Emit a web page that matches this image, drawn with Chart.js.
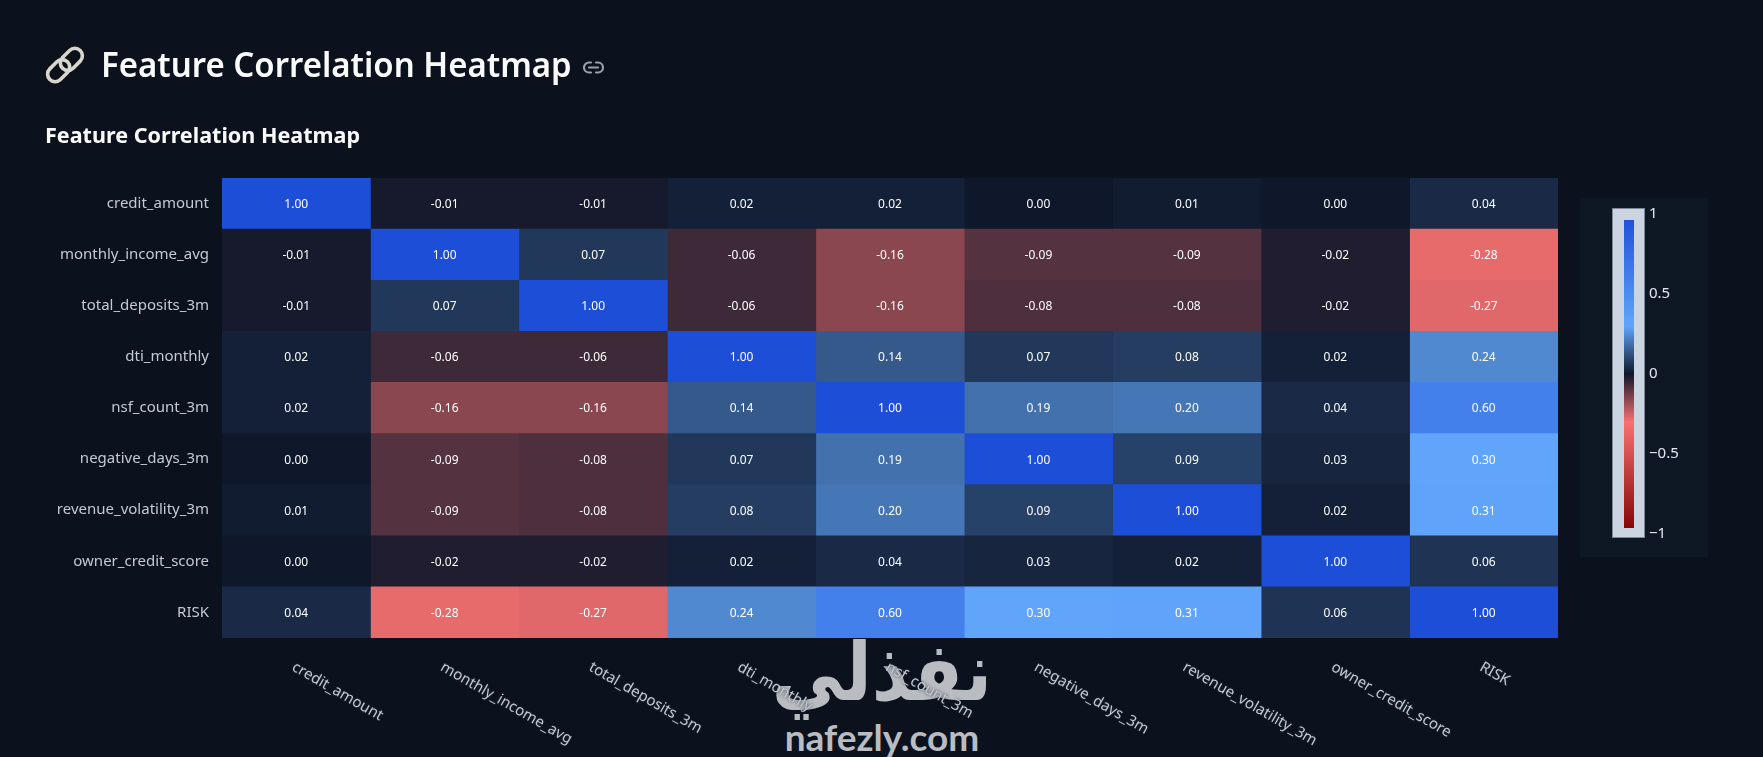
<!DOCTYPE html>
<html>
<head>
<meta charset="utf-8">
<title>Feature Correlation Heatmap</title>
<script src="https://cdn.jsdelivr.net/npm/chart.js@4"></script>
<style>
  html, body { margin: 0; padding: 0; width: 1763px; height: 757px; overflow: hidden; background: #0b121e; }
  body { position: relative; font-family: "Noto Sans", sans-serif; color: #fafafa; }
  .abs { position: absolute; }
  #pageTitle { left: 101px; top: 41px; font-size: 34px; font-weight: 600; line-height: 46px; white-space: nowrap; transform-origin: left center; transform: scaleX(.97); }
  #subTitle { left: 45px; top: 119px; font-size: 22px; font-weight: 700; line-height: 30px; white-space: nowrap; transform-origin: left center; transform: scaleX(.98); }
  #colorPanel { left: 1580px; top: 198px; width: 128px; height: 359px; background: #0e1724; }
  #colorFrame { left: 1612px; top: 208px; width: 31px; height: 328px; background: #cbd5e1; border: 1px solid #7d8796; }
  #heatCanvas { left: 0; top: 0; }
  #barCanvas { left: 1600px; top: 190px; }
  #markAr { left: 766px; top: 622px; width: 232px; text-align: center; font-family: "DejaVu Sans", sans-serif; font-weight: 700; font-size: 72px; line-height: 90px; color: #b9bcc0; transform: scaleY(1.12); transform-origin: center top; }
  #markEn { left: 774px; top: 717px; width: 216px; text-align: center; font-family: "Lato", sans-serif; font-weight: 700; font-size: 37px; line-height: 40px; color: #b9bcc0; }
</style>
</head>
<body>
<div class="abs" id="colorPanel"></div>
<div class="abs" id="colorFrame"></div>
<div class="abs" id="markAr" dir="rtl">نفذلي</div>
<div class="abs" id="markEn">nafezly.com</div>
<canvas class="abs" id="heatCanvas" width="1763" height="757"></canvas>
<canvas class="abs" id="barCanvas" width="100" height="370"></canvas>

<svg class="abs" style="left:43px;top:43px" width="44" height="44" viewBox="0 0 44 44">
  <g fill="none" transform="rotate(-45 22 22)">
    <rect x="1" y="14" width="25" height="15" rx="7.5" stroke="#111" stroke-width="7"/>
    <rect x="18" y="15" width="25" height="15" rx="7.5" stroke="#111" stroke-width="7"/>
    <rect x="1" y="14" width="25" height="15" rx="7.5" stroke="#d6d6d2" stroke-width="3.6"/>
    <rect x="18" y="15" width="25" height="15" rx="7.5" stroke="#d6d6d2" stroke-width="3.6"/>
  </g>
</svg>
<div class="abs" id="pageTitle">Feature Correlation Heatmap</div>
<svg class="abs" style="left:582px;top:60px" width="23" height="15" viewBox="0 0 23 15" fill="none" stroke="#9aa0a8" stroke-width="2.2" stroke-linecap="round">
  <path d="M9 2.5H7a5 5 0 0 0 0 10h2"/><path d="M14 2.5h2a5 5 0 0 1 0 10h-2"/><path d="M7 7.5h9"/>
</svg>
<div class="abs" id="subTitle">Feature Correlation Heatmap</div>

<script>
const features = ['credit_amount', 'monthly_income_avg', 'total_deposits_3m', 'dti_monthly', 'nsf_count_3m',
    'negative_days_3m', 'revenue_volatility_3m', 'owner_credit_score', 'RISK'];

const creditAmount = [1.00, -0.01, -0.01, 0.02, 0.02, 0.00, 0.01, 0.00, 0.04];
const monthlyIncomeAvg = [-0.01, 1.00, 0.07, -0.06, -0.16, -0.09, -0.09, -0.02, -0.28];
const totalDeposits3m = [-0.01, 0.07, 1.00, -0.06, -0.16, -0.08, -0.08, -0.02, -0.27];
const dtiMonthly = [0.02, -0.06, -0.06, 1.00, 0.14, 0.07, 0.08, 0.02, 0.24];
const nsfCount3m = [0.02, -0.16, -0.16, 0.14, 1.00, 0.19, 0.20, 0.04, 0.60];
const negativeDays3m = [0.00, -0.09, -0.08, 0.07, 0.19, 1.00, 0.09, 0.03, 0.30];
const revenueVolatility3m = [0.01, -0.09, -0.08, 0.08, 0.20, 0.09, 1.00, 0.02, 0.31];
const ownerCreditScore = [0.00, -0.02, -0.02, 0.02, 0.04, 0.03, 0.02, 1.00, 0.06];
const risk = [0.04, -0.28, -0.27, 0.24, 0.60, 0.30, 0.31, 0.06, 1.00];

const rows = [creditAmount, monthlyIncomeAvg, totalDeposits3m, dtiMonthly, nsfCount3m,
    negativeDays3m, revenueVolatility3m, ownerCreditScore, risk];

const colorbarTicks = [-1, -0.5, 0, 0.5, 1];

// value -> colour stops of the diverging scale
const stopValues = [-1, -0.3, 0, 0.3, 1];
const stopColors = [[127, 0, 0], [248, 113, 113], [15, 23, 42], [96, 165, 250], [29, 78, 216]];

function colorFor(v) {
    let i = 0;
    while (i < stopValues.length - 2 && v > stopValues[i + 1]) i++;
    const t = (v - stopValues[i]) / (stopValues[i + 1] - stopValues[i]);
    const c = stopColors[i].map((a, k) => Math.round(a + (stopColors[i + 1][k] - a) * t));
    return `rgb(${c[0]}, ${c[1]}, ${c[2]})`;
}

// one horizontal stacked dataset per column, each cell is one unit wide
const columns = features.map((name, col) => ({
    label: name,
    data: rows.map(() => 1),
    backgroundColor: rows.map(r => colorFor(r[col])),
    borderWidth: 0,
    barPercentage: 1,
    categoryPercentage: 1
}));

// cell values and the slanted column labels
const heatLabels = {
    id: 'heatLabels',
    afterDatasetsDraw(chart) {
        const ctx = chart.ctx;
        ctx.save();
        ctx.font = '12px "Noto Sans", sans-serif';
        ctx.fillStyle = '#ffffff';
        ctx.textAlign = 'center';
        ctx.textBaseline = 'middle';
        chart.data.datasets.forEach((ds, col) => {
            chart.getDatasetMeta(col).data.forEach((bar, row) => {
                const p = bar.getCenterPoint();
                ctx.fillText(rows[row][col].toFixed(2), p.x, p.y + 1);
            });
        });
        ctx.restore();

        const x = chart.scales.x;
        ctx.save();
        ctx.font = '15px "Noto Sans", sans-serif';
        ctx.fillStyle = '#c3cad5';
        ctx.shadowColor = '#2c313a';
        ctx.shadowBlur = 3;
        ctx.textAlign = 'left';
        ctx.textBaseline = 'middle';
        features.forEach((name, i) => {
            ctx.save();
            ctx.translate(x.getPixelForValue(i + 0.5) - 3, 666);
            ctx.rotate(Math.PI / 6);
            ctx.fillText(name, 0, 0);
            ctx.restore();
        });
        ctx.restore();
    }
};

new Chart(document.getElementById('heatCanvas'), {
    type: 'bar',
    data: { labels: features, datasets: columns },
    options: {
        indexAxis: 'y',
        responsive: false,
        animation: false,
        layout: { padding: { top: 178, right: 205, left: 0, bottom: 0 } },
        plugins: { legend: { display: false }, tooltip: { enabled: false } },
        scales: {
            x: {
                stacked: true,
                min: 0,
                max: features.length,
                grid: { display: false },
                border: { display: false },
                ticks: { display: false },
                afterFit(scale) { scale.height = 119; }
            },
            y: {
                stacked: true,
                grid: { display: false },
                border: { display: false },
                ticks: {
                    color: '#c3cad5',
                    font: { size: 15, family: '"Noto Sans", sans-serif' },
                    padding: 5,
                    autoSkip: false
                },
                afterFit(scale) { scale.width = 222; }
            }
        }
    },
    plugins: [heatLabels]
});

// colour bar: one floating bar painted with the scale's gradient
new Chart(document.getElementById('barCanvas'), {
    type: 'bar',
    data: {
        labels: [''],
        datasets: [{
            data: [[-0.96, 0.96]],
            barPercentage: 1,
            categoryPercentage: 1,
            borderWidth: 0,
            backgroundColor(context) {
                const { chart } = context;
                const y = chart.scales.y;
                if (!chart.chartArea || !y) return '#1d4ed8';
                const g = chart.ctx.createLinearGradient(0, y.getPixelForValue(-1), 0, y.getPixelForValue(1));
                stopValues.forEach((v, i) => g.addColorStop((v + 1) / 2, colorFor(v)));
                return g;
            }
        }]
    },
    options: {
        responsive: false,
        animation: false,
        layout: { padding: { top: 24, left: 24, right: 0, bottom: 26 } },
        plugins: { legend: { display: false }, tooltip: { enabled: false } },
        scales: {
            x: { display: false },
            y: {
                position: 'right',
                min: -1,
                max: 1,
                grid: { display: false, drawTicks: false },
                border: { display: false },
                afterBuildTicks(scale) { scale.ticks = colorbarTicks.map(value => ({ value })); },
                afterFit(scale) { scale.width = 66; },
                ticks: {
                    color: '#e5e9ef',
                    padding: 15,
                    font: { size: 15, family: '"Noto Sans", sans-serif' },
                    callback: v => String(v).replace('-', '\u2212')
                }
            }
        }
    }
});
</script>
</body>
</html>
